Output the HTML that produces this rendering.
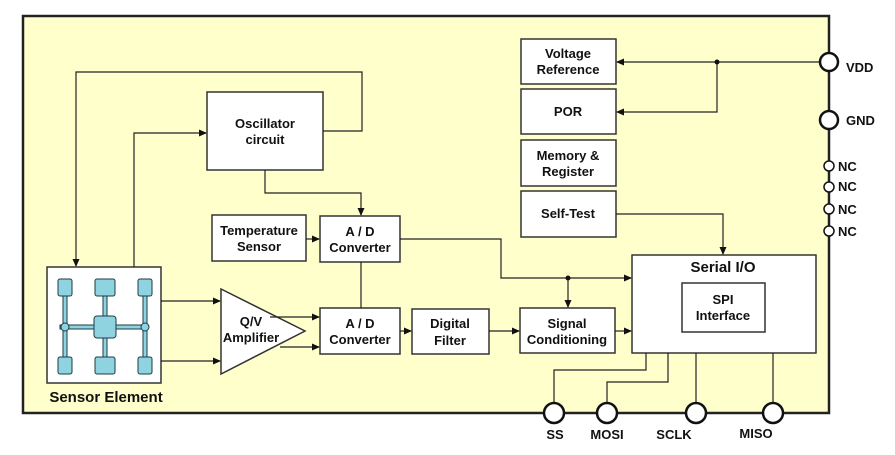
<!DOCTYPE html>
<html><head><style>body{margin:0;background:#fff}svg{display:block}text{font-family:"Liberation Sans",Arial,sans-serif;font-weight:bold;font-size:13px;fill:#111}</style></head>
<body>
<svg width="895" height="455" viewBox="0 0 895 455" xmlns="http://www.w3.org/2000/svg">
<defs><marker id="a" markerWidth="8" markerHeight="8" refX="7" refY="4" orient="auto" markerUnits="userSpaceOnUse"><path d="M0,0.5 L8,4 L0,7.5Z" fill="#111"/></marker></defs>
<rect x="23" y="16" width="806" height="397" fill="#ffffcc" stroke="#222" stroke-width="2.5"/>
<g fill="#fff" stroke="#333" stroke-width="1.5">
<rect x="207" y="92" width="116" height="78"/>
<rect x="212" y="215" width="94" height="46"/>
<rect x="320" y="216" width="80" height="46"/>
<rect x="47" y="267" width="114" height="116"/>
<polygon points="221,289 305,331 221,374"/>
<rect x="320" y="308" width="80" height="46"/>
<rect x="412" y="309" width="77" height="45"/>
<rect x="520" y="308" width="95" height="45"/>
<rect x="632" y="255" width="184" height="98"/>
<rect x="682" y="283" width="83" height="49"/>
<rect x="521" y="39" width="95" height="45"/>
<rect x="521" y="89" width="95" height="45"/>
<rect x="521" y="140" width="95" height="46"/>
<rect x="521" y="191" width="95" height="46"/>
</g>
<g fill="none" stroke="#222" stroke-width="1.2">
<path d="M323,131 H362 V72 H76 V266" marker-end="url(#a)"/>
<path d="M134,267 V133 H206" marker-end="url(#a)"/>
<path d="M265,170 V193 H361 V215" marker-end="url(#a)"/>
<path d="M306,239 H319" marker-end="url(#a)"/>
<path d="M361,262 V308"/>
<path d="M161,301 H220" marker-end="url(#a)"/>
<path d="M161,361 H220" marker-end="url(#a)"/>
<path d="M270,317 H319" marker-end="url(#a)"/>
<path d="M280,347 H319" marker-end="url(#a)"/>
<path d="M400,331 H411" marker-end="url(#a)"/>
<path d="M489,331 H519" marker-end="url(#a)"/>
<path d="M615,331 H631" marker-end="url(#a)"/>
<path d="M400,239 H501 V278 H631" marker-end="url(#a)"/>
<path d="M568,278 V307" marker-end="url(#a)"/>
<path d="M616,214 H723 V254" marker-end="url(#a)"/>
<path d="M820,62 H617" marker-end="url(#a)"/>
<path d="M717,62 V112 H617" marker-end="url(#a)"/>
<path d="M646,353 V370 H554 V403"/>
<path d="M668,353 V382 H607 V403"/>
<path d="M696,353 V403"/>
<path d="M773,353 V403"/>
</g>
<circle cx="568" cy="278" r="2.5" fill="#111"/><circle cx="717" cy="62" r="2.5" fill="#111"/>
<g fill="#fff" stroke="#111" stroke-width="2.5">
<circle cx="829" cy="62" r="9"/><circle cx="829" cy="120" r="9"/>
<circle cx="554" cy="413" r="10"/><circle cx="607" cy="413" r="10"/><circle cx="696" cy="413" r="10"/><circle cx="773" cy="413" r="10"/>
</g>
<g fill="#fff" stroke="#111" stroke-width="1.5">
<circle cx="829" cy="166" r="5"/><circle cx="829" cy="187" r="5"/><circle cx="829" cy="209" r="5"/><circle cx="829" cy="231" r="5"/>
</g>
<g fill="#8fd3e0" stroke="#1a3c44" stroke-width="1">
<rect x="63" y="280" width="4" height="80"/><rect x="103" y="280" width="4" height="80"/><rect x="143" y="280" width="4" height="80"/>
<rect x="60" y="325" width="88" height="4"/>
<rect x="58" y="279" width="14" height="17" rx="2"/><rect x="95" y="279" width="20" height="17" rx="2"/><rect x="138" y="279" width="14" height="17" rx="2"/>
<rect x="58" y="357" width="14" height="17" rx="2"/><rect x="95" y="357" width="20" height="17" rx="2"/><rect x="138" y="357" width="14" height="17" rx="2"/>
<rect x="94" y="316" width="22" height="22" rx="3"/>
<circle cx="65" cy="327" r="4"/><circle cx="145" cy="327" r="4"/>
</g>
<g text-anchor="middle">
<text x="265" y="128">Oscillator</text><text x="265" y="144">circuit</text>
<text x="259" y="235">Temperature</text><text x="259" y="251">Sensor</text>
<text x="360" y="236">A / D</text><text x="360" y="252">Converter</text>
<text x="360" y="328">A / D</text><text x="360" y="344">Converter</text>
<text x="450" y="328">Digital</text><text x="450" y="345">Filter</text>
<text x="567" y="328">Signal</text><text x="567" y="344">Conditioning</text>
<text x="251" y="326">Q/V</text><text x="251" y="342">Amplifier</text>
<text x="568" y="58">Voltage</text><text x="568" y="74">Reference</text>
<text x="568" y="116">POR</text>
<text x="568" y="160">Memory &amp;</text><text x="568" y="176">Register</text>
<text x="568" y="218">Self-Test</text>
<text x="723" y="272" style="font-size:15px">Serial I/O</text>
<text x="723" y="304">SPI</text><text x="723" y="320">Interface</text>
<text x="106" y="402" style="font-size:15px">Sensor Element</text>
<text x="555" y="439">SS</text><text x="607" y="439">MOSI</text><text x="674" y="439">SCLK</text><text x="756" y="438">MISO</text>
</g>
<text x="846" y="72">VDD</text><text x="846" y="125">GND</text>
<text x="838" y="171">NC</text><text x="838" y="191">NC</text><text x="838" y="214">NC</text><text x="838" y="236">NC</text>
</svg>
</body></html>
